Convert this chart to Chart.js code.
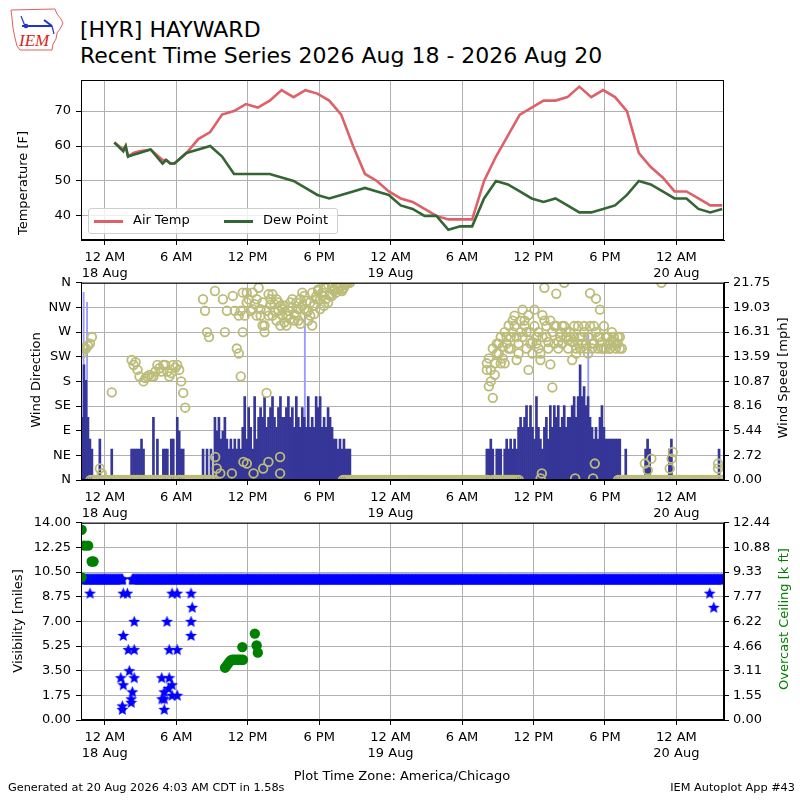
<!DOCTYPE html>
<html>
<head>
<meta charset="utf-8">
<script src="https://cdn.jsdelivr.net/npm/chart.js@4.4.0/dist/chart.umd.min.js"></script>
<style>
  body { margin:0; background:#fff; }
  #page { position:relative; width:800px; height:800px; overflow:hidden; font-family:"DejaVu Sans", sans-serif; color:#000; }
  canvas { position:absolute; left:0; }
  .txt { position:absolute; white-space:nowrap; }
  .ylab { position:absolute; white-space:nowrap; font-size:13px; transform:translate(-50%,-50%) rotate(-90deg); }
  #legend { position:absolute; left:88px; top:208px; width:248px; height:24px; border:1px solid #cfcfcf; border-radius:3px; background:rgba(255,255,255,0.8); font-size:13px; }
  #legend span.sw { position:absolute; top:11px; width:29px; height:3px; }
  #legend span.lb { position:absolute; top:3px; }
</style>
</head>
<body>
<div id="page">
  <svg class="txt" style="left:8px;top:6px" width="58" height="46" viewBox="0 0 58 46">
    <path d="M3 4 L47 3 L49 8 L53 13 L55 17 L52 23 L49 27 L48 33 L45 38 L44 44 L12 44 L9 40 L7 32 L5 22 L4 12 Z" fill="none" stroke="#e06060" stroke-width="1"/>
    <line x1="14" y1="20" x2="44" y2="20" stroke="#2233cc" stroke-width="2"/>
    <line x1="13" y1="10" x2="17" y2="20" stroke="#2233cc" stroke-width="1.2"/>
    <circle cx="18" cy="20" r="2.3" fill="#2233cc"/>
    <line x1="36" y1="14" x2="44" y2="20" stroke="#2233cc" stroke-width="2"/>
    <line x1="44" y1="20" x2="46" y2="28" stroke="#2233cc" stroke-width="1.2"/>
    <text x="11" y="40" font-family="Liberation Serif" font-style="italic" font-size="17" fill="#dd2222">IEM</text>
  </svg>
  <div class="txt" style="left:80px;top:16px;font-size:22px;line-height:28px">[HYR] HAYWARD</div>
  <div class="txt" style="left:80px;top:42px;font-size:22px;line-height:28px">Recent Time Series 2026 Aug 18 - 2026 Aug 20</div>

  <canvas id="tempChart" width="800" height="230" style="top:60px"></canvas>
  <canvas id="windChart" width="800" height="260" style="top:270px"></canvas>
  <canvas id="visChart" width="800" height="260" style="top:510px"></canvas>

  <div id="legend">
    <span class="sw" style="left:5px;background:#de6068"></span><span class="lb" style="left:44px">Air Temp</span>
    <span class="sw" style="left:135px;background:#336633"></span><span class="lb" style="left:174px">Dew Point</span>
  </div>

  <div class="ylab" style="left:22px;top:183px">Temperature [F]</div>
  <div class="ylab" style="left:35px;top:380px">Wind Direction</div>
  <div class="ylab" style="left:782px;top:378px">Wind Speed [mph]</div>
  <div class="ylab" style="left:17px;top:621px">Visibility [miles]</div>
  <div class="ylab" style="left:783px;top:619px;color:#008000">Overcast Ceiling [k ft]</div>

  <div class="txt" style="left:402px;top:775px;font-size:13px;transform:translate(-50%,-50%)">Plot Time Zone: America/Chicago</div>
  <div class="txt" style="left:8px;top:781px;font-size:11.3px">Generated at 20 Aug 2026 4:03 AM CDT in 1.58s</div>
  <div class="txt" style="right:5px;top:781px;font-size:11.3px">IEM Autoplot App #43</div>
</div>

<script>
// hours are counted from 12 AM 18 Aug (America/Chicago)
const xMin = -2, xMax = 52;
const tickHours = [0, 6, 12, 18, 24, 30, 36, 42, 48];
const tickLabels = [["12 AM","18 Aug"], "6 AM", "12 PM", "6 PM", ["12 AM","19 Aug"], "6 AM", "12 PM", "6 PM", ["12 AM","20 Aug"]];

// temperature obs
const tempHours = [0.8, 1.55, 1.75, 1.95, 2.4, 2.9, 3.85, 4.85, 5.15, 5.5, 5.85,
  6.85, 7.85, 8.85, 9.85, 10.85, 11.85, 12.85, 13.85, 14.85, 15.85, 16.85, 17.85, 18.85, 19.85,
  20.85, 21.85, 22.85, 23.85, 24.85, 25.85, 26.85, 27.85, 28.85, 29.85, 30.85, 31.85, 32.85,
  33.85, 34.85, 35.85, 36.85, 37.85, 38.85, 39.85, 40.85, 41.85, 42.85, 43.85, 44.85, 45.85,
  46.85, 47.85, 48.85, 49.85, 50.85, 51.85];
const airTemp = [61, 59, 60, 57, 58, 58.5, 59, 56, 56, 55, 55,
  58, 62, 64, 69, 70, 72, 71, 73, 76, 74, 76, 75, 73, 69,
  60, 52, 50, 47, 45, 44, 42, 40, 39, 39, 39, 50, 57,
  63, 69, 71, 73, 73, 74, 77, 74, 76, 74, 70, 58, 54,
  51, 47, 47, 45, 43, 43];
const dewPoint = [61, 58.5, 60, 57, 57.5, 58, 59, 55, 56, 55, 55,
  58, 59, 60, 57, 52, 52, 52, 52, 51, 50, 48, 46, 45, 46,
  47, 48, 47, 46, 43, 42, 40, 40, 36, 37, 37, 45, 50,
  49, 47, 45, 44, 45, 43, 41, 41, 42, 43, 46, 50, 49,
  47, 45, 45, 42, 41, 42];

// wind, one row per hour (from -2), six 10-minute slots per row
const windSpeedRows = [
  [6.9, 12.7, 11.0, 6.9, 4.5, 3.4], [0, 0, 0, 4.5, 0, 0], [0, 0, 0, 3.4, 0, 0], [0, 0, 0, 0, 0, 0],
  [0, 3.4, 3.4, 3.4, 3.4, 3.4], [4.5, 3.4, 0, 0, 0, 0], [6.9, 0, 4.5, 0, 0, 3.4], [3.4, 3.4, 0, 4.5, 4.5, 0],
  [6.9, 5.4, 3.4, 3.4, 0, 0], [0, 0, 0, 0, 0, 0], [0, 3.4, 0, 3.4, 0, 3.4], [0, 6.9, 5.4, 6.9, 4.5, 5.4],
  [6.9, 4.5, 3.4, 4.5, 3.4, 4.5], [3.4, 4.5, 3.4, 5.8, 9.2, 4.5], [8.0, 5.8, 3.4, 9.2, 4.5, 6.9], [8.0, 6.9, 9.2, 5.8, 6.9, 8.0],
  [9.2, 6.9, 5.8, 8.0, 9.2, 6.9], [6.9, 8.0, 9.2, 6.9, 8.0, 5.8], [9.2, 6.9, 5.8, 8.0, 6.9, 5.8], [9.2, 5.8, 6.9, 5.8, 9.2, 8.0],
  [9.2, 5.8, 6.9, 5.8, 8.0, 6.9], [5.8, 4.5, 4.5, 3.4, 4.5, 3.4], [4.5, 3.4, 3.4, 3.4, 0, 0], [0, 0, 0, 0, 0, 0],
  [0, 0, 0, 0, 0, 0], [0, 0, 0, 0, 0, 0], [0, 0, 0, 0, 0, 0], [0, 0, 0, 0, 0, 0],
  [0, 0, 0, 0, 0, 0], [0, 0, 0, 0, 0, 0], [0, 0, 0, 0, 0, 0], [0, 0, 0, 0, 0, 0],
  [0, 0, 0, 0, 0, 0], [0, 0, 0, 0, 0, 0], [3.4, 3.4, 4.5, 3.4, 0, 3.4], [3.4, 3.4, 0, 3.4, 4.5, 3.4],
  [4.5, 3.4, 4.5, 3.4, 5.8, 6.9], [5.8, 6.9, 8.2, 5.8, 8.2, 5.8], [4.5, 9.2, 5.8, 4.5, 3.4, 5.8], [6.9, 4.5, 8.2, 5.8, 8.2, 6.9],
  [8.2, 5.8, 6.9, 8.2, 5.8, 6.9], [6.9, 8.2, 9.2, 6.9, 9.2, 12.7], [9.2, 10.3, 8.2, 9.2, 6.9, 5.8], [4.5, 5.8, 4.5, 6.9, 8.2, 5.8],
  [4.5, 4.5, 4.5, 4.5, 4.5, 4.5], [4.5, 4.5, 0, 0, 3.4, 0], [0, 0, 0, 0, 0, 0], [0, 0, 3.4, 4.5, 3.4, 0],
  [0, 0, 0, 0, 0, 0], [0, 0, 3.4, 4.5, 0, 0], [0, 0, 0, 0, 0, 0], [0, 0, 0, 0, 0, 0],
  [0, 0, 0, 0, 0, 0], [0, 0, 0, 3.4, 0, 0]
];
const windDirRows = [
  [231, 240, 240, 245, 249, 261], [null, null, null, 21, 12, null], [null, null, null, 160, null, null], [null, null, null, null, null, null],
  [null, 219, 210, 215, 201, 189], [null, 180, 186, 189, 192, 189], [189, 198, 210, 204, 198, 210], [210, 198, 189, 195, 210, 205],
  [210, 201, 180, 159, 132, null], [null, null, null, null, null, null], [null, 330, 309, 270, 261, null], [null, 345, null, null, null, 330],
  [270, 309, null, null, 336, 309], [240, 231, 189, 342, 300, 324], [null, null, 312, null, 330, null], [300, 282, 270, 159, 339, 320],
  [300, 321, 330, 309, 318, 300], [288, 282, 300, 324, 315, 291], [324, 291, 330, 342, 312, 309], [291, 300, 282, 318, 335, 348],
  [312, 336, 351, 330, 324, 340], [336, 348, 342, 351, 354, 345], [351, 357, 360, 360, null, null], [null, null, null, null, null, null],
  [null, null, null, null, null, null], [null, null, null, null, null, null], [null, null, null, null, null, null], [null, null, null, null, null, null],
  [null, null, null, null, null, null], [null, null, null, null, null, null], [null, null, null, null, null, null], [null, null, null, null, null, null],
  [null, null, null, null, null, null], [null, null, null, null, null, null], [213, 171, 201, 150, 192, 231], [249, 213, 222, 213, 261, 240],
  [261, 291, 281, 219, 249, 270], [311, 291, 270, 201, 249, 231], [311, 261, 240, 219, 301, 351], [281, 252, 211, 169, 281, 340],
  [252, 261, 281, 360, 270, 255], [261, 219, 281, 240, 249, 240], [261, 281, 249, 231, 341, 249], [281, 331, 261, 311, 240, 281],
  [240, 261, 240, 255, 261, 249], [261, 261, 240, null, null, null], [null, null, null, null, null, null], [null, null, null, null, null, null],
  [null, null, null, null, 360, null], [null, null, null, null, null, null], [null, null, null, null, null, null], [null, null, null, null, null, null],
  [null, null, null, null, null, null], [null, null, null, null, null, null]
];
// the in-between 5-minute directions during the two windy afternoons
const dayOneDirStart = 11;
const dayOneDirRows = [
  [null, 300, 309, 270, null, 342], [330, 309, 342, 321, 300, 351], [312, 324, 282, 309, 300, 330], [339, 309, 291, 324, 282, 312],
  [318, 300, 309, 294, 330, 303], [300, 312, 285, 318, 336, 327], [309, 324, 342, 303, 330, 345], [330, 342, 318, 351, 357, 336],
  [354, 345, 357, 360, 351, 348], [357, 360, null, null, null, null]
];
const dayTwoDirStart = 32;
const dayTwoDirRows = [
  [201, 222, 180, 240, 213, 249], [231, 261, 243, 270, 249, 282], [240, 270, 300, 261, 231, 291], [261, 282, 240, 301, 270, 252],
  [281, 249, 270, 231, 261, 291], [261, 240, 291, 270, 249, 281], [240, 270, 249, 281, 261, 240], [270, 252, 261, 231, 281, 261],
  [249, 270, 240, 261, 281, 240], [249, 270, 240, 261, 252, 240], [261, 249, 240, 270, 252, 240], [249, 240, null, null, null, null]
];
// calm periods: direction reported as 0 (N)
const calmSpans = [[-1.2, 2.6], [2.7, 5.8], [6.2, 9.3], [20.0, 32.2], [32.6, 34.8], [43.1, 51.9]];
// light-wind directions scattered near the bottom
const lowDirHours = [9.27, 9.4, 9.7, 10.67, 11.64, 11.93, 12.49, 13.3, 13.74, 14.72, 14.72, 36.6, 36.7, 39.5, 41.0, 41.15, 45.35, 45.6, 45.9, 47.44, 47.6, 47.7, 51.5, 51.5];
const lowDirValues = [42, 21, 12, 12, 33, 30, 12, 21, 33, 42, 12, 3, 12, 3, 3, 30, 30, 18, 39, 21, 39, 51, 30, 21];
const gustHours = [-1.78, -1.49, 16.8, 40.6];
const gustValues = [20.7, 19.6, 18.4, 16.1];

// visibility: 10 mile reports, then the lower ones
const visTenSpans = [[-2, 1.5], [2.3, 51.95]];
const visLowHours = [-1.24, 1.55, 1.89, 2.47, 1.55, 1.97, 2.47, 2.06, 1.34, 2.47, 1.55, 2.31, 2.22, 2.22, 1.47, 1.47,
  5.65, 6.08, 5.22, 5.41, 6.08, 4.78, 5.41, 5.35, 5.65, 4.99, 5.65, 6.08, 4.8, 4.99, 4.99, 7.24, 7.34, 7.24, 7.24, 50.8, 51.14];
const visLowValues = [9, 9, 9, 7, 6, 5, 5, 3.5, 3, 3, 2.5, 2, 1.5, 1.25, 1, 0.75,
  9, 9, 7, 5, 5, 3, 3, 2.25, 2.5, 2, 1.75, 1.75, 1.5, 1.5, 0.75, 9, 8, 7, 6, 9, 8];
const ceilHours = [-1.95, -1.7, -1.4, -1.1, -0.95, -1.95, 10.1, 10.25, 10.4, 10.55, 10.7, 10.85, 11.0, 11.15, 11.3, 11.45, 11.6, 11.55, 12.6, 12.75, 12.85];
const ceilValues = [12.0, 11.0, 11.0, 10.0, 10.0, 9.0, 3.3, 3.45, 3.6, 3.75, 3.8, 3.8, 3.8, 3.8, 3.8, 3.8, 3.8, 4.6, 5.45, 4.7, 4.25];

// axis ticks
const tempTicks = [40, 50, 60, 70];
const dirTicks = [0, 45, 90, 135, 180, 225, 270, 315, 360];
const dirLabels = ["N", "NE", "E", "SE", "S", "SW", "W", "NW", "N"];
const speedLabels = ["0.00", "2.72", "5.44", "8.16", "10.87", "13.59", "16.31", "19.03", "21.75"];
const visLabels = ["0.00", "1.75", "3.50", "5.25", "7.00", "8.75", "10.50", "12.25", "14.00"];
const ceilLabels = ["0.00", "1.55", "3.11", "4.66", "6.22", "7.77", "9.33", "10.88", "12.44"];

const FONT = { family: "DejaVu Sans", size: 13 };
const GRID = "#b0b0b0";
const CIRCLE = "#bcbc7a";

// black frame around each plot area
const framePlugin = {
  id: "frame",
  afterDatasetsDraw(chart) {
    const a = chart.chartArea, c = chart.ctx;
    c.save(); c.strokeStyle = "#000"; c.lineWidth = 1;
    c.strokeRect(a.left + 0.5, a.top + 0.5, a.right - a.left - 1, a.bottom - a.top - 1);
    c.restore();
  }
};

// rows of 10-minute slots -> points (offset shifts slots, e.g. 5 min)
function slotPoints(rows, skip, startHour, offset) {
  const h0 = startHour == null ? xMin : startHour;
  const off = offset || 0.5;
  const pts = [];
  rows.flat().forEach((v, i) => {
    if (v == null || v === skip) return;
    pts.push({ x: h0 + (i + off) / 6, y: v });
  });
  return pts;
}
function spanPoints(spans, value, step) {
  const pts = [];
  spans.forEach(s => { for (let t = s[0]; t <= s[1] + 1e-6; t += step) pts.push({ x: t, y: value }); });
  return pts;
}
function pairPoints(xs, ys) { return xs.map((x, i) => ({ x, y: ys[i] })); }

function xAxis() {
  return {
    type: "linear", min: xMin, max: xMax, offset: false,
    afterBuildTicks: s => { s.ticks = tickHours.map(v => ({ value: v })); },
    afterFit: s => { s.height = 50; },
    ticks: { autoSkip: false, maxRotation: 0, minRotation: 0, padding: 5, color: "#000", font: FONT,
      callback: (v, i) => tickLabels[i] },
    grid: { color: GRID, offset: false, tickColor: "#000", tickLength: 5 },
    border: { color: "#000" }
  };
}
function yAxis(min, max, values, labels, side, width, grid) {
  return {
    type: "linear", position: side, min, max,
    afterBuildTicks: s => { s.ticks = values.map(v => ({ value: v })); },
    afterFit: s => { s.width = width; },
    ticks: { autoSkip: false, padding: side === "left" ? 5 : 4, color: "#000", font: FONT,
      callback: (v, i) => labels[i] },
    grid: { color: GRID, drawOnChartArea: grid, tickColor: "#000", tickLength: 5 },
    border: { color: "#000" }
  };
}
const baseOpts = {
  responsive: false, animation: false, events: [],
  plugins: { legend: { display: false }, tooltip: { enabled: false } }
};

// filled five point star marker
function starMarker(r, color) {
  const c = document.createElement("canvas");
  c.width = c.height = Math.ceil(2 * r + 2);
  const g = c.getContext("2d");
  g.beginPath();
  for (let i = 0; i < 10; i++) {
    const rad = i % 2 ? r * 0.45 : r;
    const a = -Math.PI / 2 + i * Math.PI / 5;
    g.lineTo(c.width / 2 + rad * Math.cos(a), c.height / 2 + 0.5 + rad * Math.sin(a));
  }
  g.closePath(); g.fillStyle = color; g.fill();
  return c;
}

// temperature panel
new Chart(document.getElementById("tempChart"), {
  type: "line",
  data: { datasets: [
    { label: "Dew Point", data: pairPoints(tempHours, dewPoint), borderColor: "#336633", borderWidth: 2.6, pointRadius: 0, order: 0 },
    { label: "Air Temp", data: pairPoints(tempHours, airTemp), borderColor: "#de6068", borderWidth: 2.6, pointRadius: 0, order: 1 }
  ] },
  options: Object.assign({}, baseOpts, {
    layout: { padding: { top: 20, right: 76, left: 0, bottom: 0 } },
    scales: { x: xAxis(), y: yAxis(33.1, 78.9, tempTicks, tempTicks.map(String), "left", 81, true) }
  }),
  plugins: [framePlugin]
});

// wind panel
const circleStyle = { type: "scatter", yAxisID: "y", pointRadius: 4.3, borderWidth: 1.8, borderColor: CIRCLE, backgroundColor: "rgba(0,0,0,0)", order: 0 };
const dirPoints = slotPoints(windDirRows)
  .concat(slotPoints(dayOneDirRows, undefined, dayOneDirStart, 0))
  .concat(slotPoints(dayTwoDirRows, undefined, dayTwoDirStart, 0));
new Chart(document.getElementById("windChart"), {
  type: "bar",
  data: { datasets: [
    Object.assign({ label: "Wind Direction", data: dirPoints }, circleStyle),
    Object.assign({ label: "Calm", data: spanPoints(calmSpans, 0, 1 / 6) }, circleStyle),
    Object.assign({ label: "Light", data: pairPoints(lowDirHours, lowDirValues) }, circleStyle),
    { type: "bar", label: "Wind Speed", yAxisID: "y2", data: slotPoints(windSpeedRows, 0), backgroundColor: "#363699", barThickness: 2, grouped: false, order: 1 },
    { type: "bar", label: "Gust", yAxisID: "y2", data: pairPoints(gustHours, gustValues), backgroundColor: "#9a9aff", barThickness: 1.2, grouped: false, order: 2 }
  ] },
  options: Object.assign({}, baseOpts, {
    layout: { padding: { top: 10, right: 0, left: 0, bottom: 0 } },
    scales: {
      x: xAxis(),
      y: yAxis(0, 360, dirTicks, dirLabels, "left", 81, true),
      y2: yAxis(0, 21.75, speedLabels.map(Number), speedLabels, "right", 76, false)
    }
  }),
  plugins: [framePlugin]
});

// visibility / ceiling panel
const star = starMarker(6.2, "#0000ff");
new Chart(document.getElementById("visChart"), {
  type: "scatter",
  data: { datasets: [
    { label: "Ceiling", yAxisID: "y2", data: pairPoints(ceilHours, ceilValues), pointRadius: 5.2, borderWidth: 0, backgroundColor: "#008000", order: 0 },
    { label: "Visibility", yAxisID: "y", data: spanPoints(visTenSpans, 10, 1 / 20).concat(pairPoints(visLowHours, visLowValues)), pointStyle: star, order: 1 }
  ] },
  options: Object.assign({}, baseOpts, {
    layout: { padding: { top: 10, right: 0, left: 0, bottom: 0 } },
    scales: {
      x: xAxis(),
      y: yAxis(0, 14, visLabels.map(Number), visLabels, "left", 81, true),
      y2: yAxis(0, 12.44, ceilLabels.map(Number), ceilLabels, "right", 76, false)
    }
  }),
  plugins: [framePlugin]
});
</script>
</body>
</html>
